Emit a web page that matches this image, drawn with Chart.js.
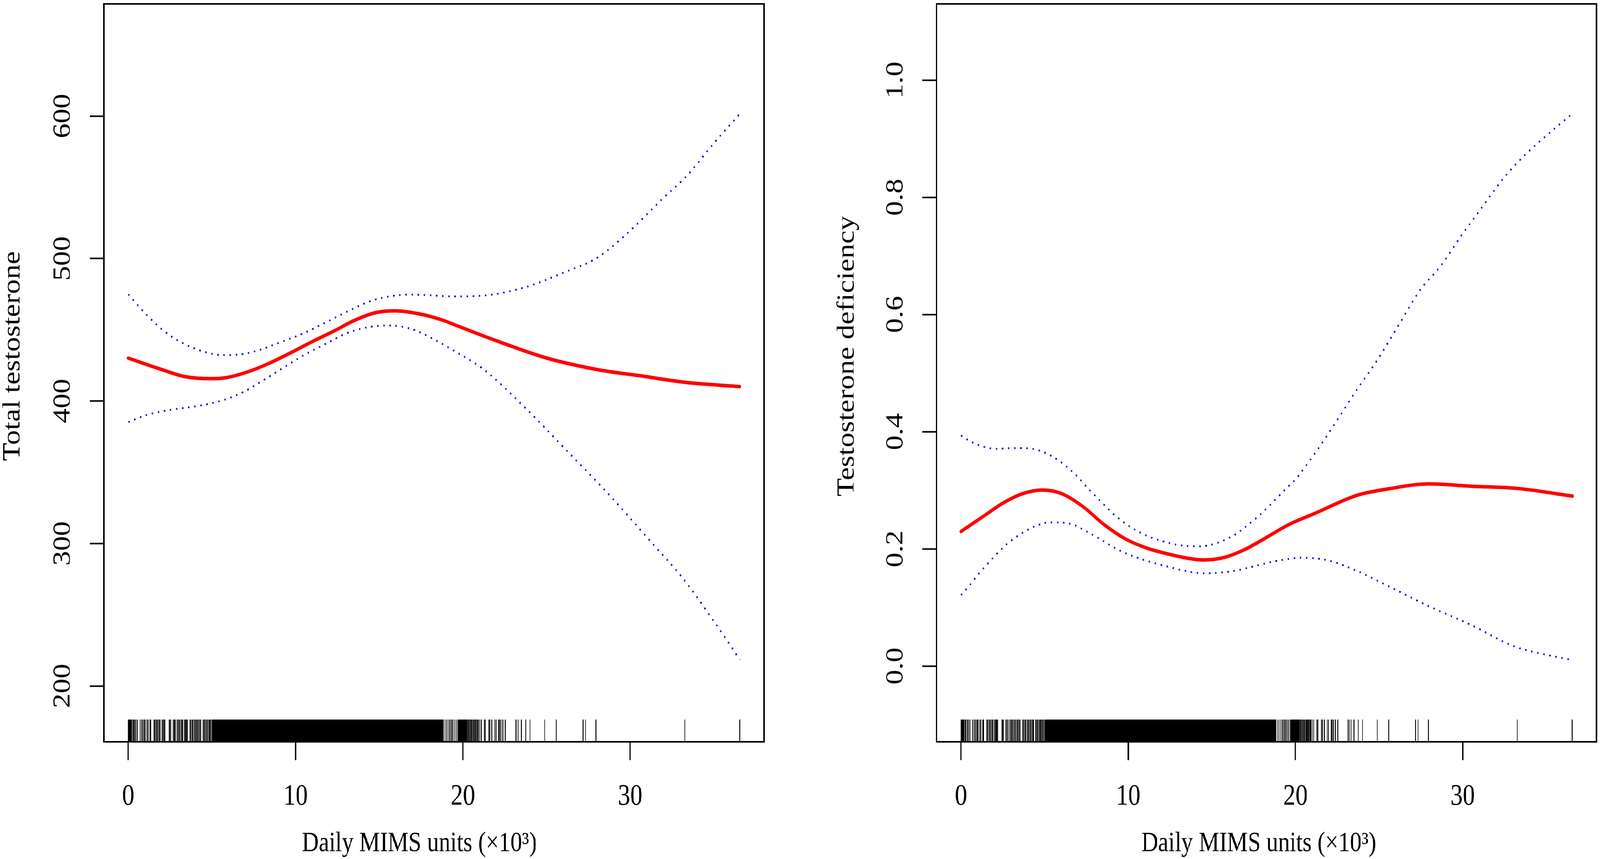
<!DOCTYPE html>
<html><head><meta charset="utf-8">
<script src="https://cdn.jsdelivr.net/npm/chart.js@4.4.1/dist/chart.umd.min.js"></script>
<style>
html,body{margin:0;padding:0;background:#fff;overflow:hidden}
#stage{position:absolute;left:0;top:0;width:4961px;height:2199px;transform-origin:0 0;background:#fff}
canvas{position:absolute;top:0}
#c1{left:0}
#c2{left:2480px}
</style></head><body>
<div id="stage">
<canvas id="c1" width="2480" height="2199"></canvas>
<canvas id="c2" width="2481" height="2199"></canvas>
</div>
<script>
// ---------- text ----------
const xAxisTitle = 'Daily MIMS units (×10³)';
const leftYTitle = 'Total testosterone';
const rightYTitle = 'Testosterone deficiency';

// ---------- tick values ----------
const xTickValues = [0, 10, 20, 30];
const ttTickValues = [200, 300, 400, 500, 600];
const tdTickValues = [0, 0.2, 0.4, 0.6, 0.8, 1.0];

// ---------- rug (observed Daily MIMS, x10^3) ----------
const rugX = [0, 0.03, 0.06, 0.09, 0.12, 0.15, 0.19, 0.26, 0.31, 0.39, 0.45, 0.53, 0.71, 0.82, 0.89, 0.96, 1.02, 1.11, 1.18, 1.30, 1.35,
  1.54, 1.58, 1.65, 1.72, 1.78, 1.85, 1.91, 2.01, 2.07, 2.13, 2.18, 2.44, 2.49, 2.55, 2.68, 2.74, 2.81, 2.93, 3.00, 3.05, 3.12, 3.19,
  3.25, 3.35, 3.41, 3.48, 3.54, 3.70, 3.76, 3.83, 3.88, 3.96, 4.02, 4.08, 4.15, 4.21, 4.28, 4.34, 4.47, 4.53, 4.59, 4.66, 4.72, 4.79,
  4.85, 4.91, 4.98, 5.04,
  18.83, 18.93, 19.02, 19.12, 19.21, 19.31, 19.40, 19.50, 19.60, 19.69,
  20.30, 20.35, 20.41, 20.47, 20.52, 20.58, 20.64, 20.70, 20.75, 20.81, 20.87, 20.93, 21.01, 21.10, 21.29, 21.35, 21.55, 21.61,
  21.73, 21.90, 21.98, 22.13, 22.18, 22.27, 22.39, 22.53, 23.15, 23.23, 23.33, 23.50, 23.76, 24.01, 24.89, 25.58, 27.18, 27.33,
  27.95, 33.27, 36.55];
// solid black part of the rug (marks too dense to separate in the picture)
const rugDenseX = [5.10, 5.25, 5.40, 5.55, 5.70, 5.85, 6.00, 6.15, 6.30, 6.45, 6.60, 6.75, 6.90, 7.05, 7.20, 7.35, 7.50, 7.65, 7.80,
  7.95, 8.10, 8.25, 8.40, 8.55, 8.70, 8.85, 9.00, 9.15, 9.30, 9.45, 9.60, 9.75, 9.90, 10.05, 10.20, 10.35, 10.50, 10.65, 10.80,
  10.95, 11.10, 11.25, 11.40, 11.55, 11.70, 11.85, 12.00, 12.15, 12.30, 12.45, 12.60, 12.75, 12.90, 13.05, 13.20, 13.35, 13.50,
  13.65, 13.80, 13.95, 14.10, 14.25, 14.40, 14.55, 14.70, 14.85, 15.00, 15.15, 15.30, 15.45, 15.60, 15.75, 15.90, 16.05, 16.20,
  16.35, 16.50, 16.65, 16.80, 16.95, 17.10, 17.25, 17.40, 17.55, 17.70, 17.85, 18.00, 18.15, 18.30, 18.45, 18.60, 18.72,
  19.80, 19.95, 20.10, 20.18];

// ---------- left panel: Total testosterone ----------
const ttFitX = [0, 2.04, 3.31, 4.85, 5.87, 7.15, 8.43, 9.70, 10.98, 12.26, 13.54, 14.82, 15.97, 17.37, 18.75, 19.42, 21.88, 25.02, 28.02, 30.65, 33.29, 36.55];
const ttFitY = [430.1, 421.9, 417.3, 415.7, 416.4, 420.5, 426.5, 433.8, 441.6, 448.9, 456.7, 462.1, 463.3, 461.2, 456.9, 453.9, 442.8, 430.1, 422.1, 417.6, 413.1, 410.1];
const ttUpperX = [0, 0.82, 1.65, 2.55, 3.57, 4.59, 5.61, 6.70, 7.78, 9.06, 10.47, 11.75, 13.09, 14.43, 15.45, 16.86, 18.0, 19.42, 21.25, 23.76, 26.02, 28.02, 29.78, 31.91, 33.41, 35.04, 36.55];
const ttUpperY = [474.9, 463.9, 454.1, 445.5, 438.8, 434.4, 432.2, 432.7, 435.6, 441.1, 447.5, 454.8, 462.8, 469.9, 473.1, 474.7, 474.2, 473.4, 474.0, 480.0, 490.1, 500.5, 517.2, 541.7, 558.4, 581.5, 601.5];
const ttLowerX = [0, 1.01, 2.42, 3.82, 4.85, 5.87, 6.96, 7.91, 9.19, 10.47, 11.81, 13.15, 14.50, 15.58, 16.99, 18.33, 19.29, 21.25, 23.76, 26.27, 28.78, 31.28, 33.16, 35.04, 36.55];
const ttLowerY = [385.2, 389.9, 393.6, 395.9, 398.1, 401.3, 406.8, 413.4, 422.8, 432.0, 440.2, 448.0, 452.1, 453.0, 450.3, 442.9, 436.5, 422.1, 394.8, 364.4, 333.7, 300.6, 275.4, 244.8, 218.5];

// ---------- right panel: Testosterone deficiency ----------
const tdFitX = [0, 1.28, 2.56, 3.71, 4.86, 6.01, 7.29, 8.57, 9.85, 11.13, 12.41, 13.69, 14.46, 15.61, 16.89, 18.17, 19.58, 21.20, 23.69, 25.56, 27.98, 30.53, 33.27, 36.57];
const tdFitY = [0.2296, 0.2544, 0.2789, 0.2944, 0.3004, 0.2944, 0.2722, 0.2411, 0.2167, 0.2011, 0.1911, 0.1833, 0.1811, 0.1844, 0.1978, 0.2178, 0.2411, 0.2611, 0.2915, 0.3024, 0.3108, 0.3069, 0.3031, 0.2901];
const tdUpperX = [0, 0.64, 1.34, 2.04, 3.07, 3.84, 4.54, 5.24, 5.88, 6.46, 7.04, 7.55, 8.12, 8.70, 9.27, 10.17, 11.13, 12.16, 13.24, 14.33, 15.35, 16.38, 17.27, 18.17, 19.0, 19.58, 19.96, 21.20, 22.45, 23.69, 24.94, 26.18, 27.42, 28.67, 29.91, 31.15, 32.40, 33.64, 34.88, 36.57];
const tdUpperY = [0.3933, 0.3822, 0.3744, 0.3707, 0.3718, 0.3718, 0.3689, 0.3611, 0.3500, 0.3367, 0.3211, 0.3044, 0.2878, 0.2711, 0.2556, 0.2367, 0.2222, 0.2122, 0.2056, 0.2044, 0.2104, 0.2244, 0.2433, 0.2660, 0.2900, 0.3067, 0.3173, 0.3645, 0.4175, 0.4724, 0.5241, 0.5823, 0.6404, 0.6824, 0.7341, 0.7826, 0.8311, 0.8698, 0.9021, 0.9430];
const tdLowerX = [0, 0.51, 1.02, 1.57, 2.11, 2.69, 3.30, 3.97, 4.61, 5.31, 6.01, 6.72, 7.42, 8.38, 9.34, 10.36, 11.39, 12.41, 13.43, 14.52, 15.22, 16.31, 17.34, 18.43, 19.45, 20.33, 21.95, 23.69, 25.56, 27.98, 30.53, 33.02, 34.88, 36.57];
const tdLowerY = [0.1211, 0.1378, 0.1562, 0.1738, 0.1907, 0.2067, 0.2204, 0.2322, 0.2407, 0.2451, 0.2449, 0.2411, 0.2311, 0.2156, 0.1993, 0.1867, 0.1771, 0.1693, 0.1622, 0.1582, 0.1589, 0.1622, 0.1689, 0.1767, 0.1822, 0.1848, 0.1803, 0.1622, 0.1363, 0.1021, 0.0698, 0.0343, 0.0200, 0.0103];

// ---------- fit the 4961x2199 stage into whatever viewport the browser gives ----------
(function () {
  const vw = document.documentElement.clientWidth || window.innerWidth || 4961;
  const vh = document.documentElement.clientHeight || window.innerHeight || 2199;
  const sx = vw / 4961, sy = vh / 2199;
  if (Math.abs(sx - 1) > 0.002 || Math.abs(sy - 1) > 0.002) {
    document.getElementById('stage').style.transform = 'scale(' + sx + ',' + sy + ')';
  }
})();

// ---------- helpers ----------
function pts(xs, ys) { return xs.map((x, i) => ({ x: x, y: ys[i] })); }
const FONT = 'Liberation Serif';
const RED = 'rgb(255,0,0)';
const BLUE = 'rgb(0,0,225)';

const boxPlugin = {
  id: 'rbox',
  afterDraw(chart) {
    const { ctx, chartArea: a } = chart;
    ctx.save();
    ctx.strokeStyle = '#000';
    ctx.lineWidth = 4;
    ctx.strokeRect(a.left, a.top, a.right - a.left, a.bottom - a.top);
    ctx.restore();
  }
};

// nudges the axis titles (as R placed them slightly off-centre)
const titleShiftPlugin = {
  id: 'titleShift',
  beforeDraw(chart, args, opts) {
    ['x', 'y'].forEach(id => {
      const s = chart.scales[id];
      if (!s || s._titleShiftPatched) return;
      const orig = s.drawTitle;
      const dx = id === 'x' ? (opts.x || 0) : 0;
      const dy = id === 'y' ? (opts.y || 0) : 0;
      s.drawTitle = function () {
        this.ctx.save();
        this.ctx.translate(dx, dy);
        orig.apply(this, arguments);
        this.ctx.restore();
      };
      s._titleShiftPatched = true;
    });
  }
};

function makePanel(canvasId, p) {
  const rugLine = (xs, w) => ({
    data: xs.map(x => ({ x: x, y: p.yMin })),
    showLine: false, pointStyle: 'line', pointRotation: 90, pointRadius: 57, pointHoverRadius: 57,
    pointBorderWidth: w, pointBorderColor: '#000', pointBackgroundColor: '#000', clip: 0
  });
  const dotted = (data) => ({
    data: data, showLine: true, borderColor: BLUE, borderWidth: 4.5, borderDash: [4.5, 14.5], borderCapStyle: 'butt',
    pointRadius: 0, cubicInterpolationMode: 'monotone', fill: false
  });
  return new Chart(document.getElementById(canvasId), {
    type: 'scatter',
    data: {
      datasets: [
        rugLine(rugX, 2.5),
        rugLine(rugDenseX, 9),
        dotted(p.lower),
        dotted(p.upper),
        { data: p.fit, showLine: true, borderColor: RED, borderWidth: 9, borderCapStyle: 'round', borderJoinStyle: 'round',
          pointRadius: 0, cubicInterpolationMode: 'monotone', fill: false }
      ]
    },
    options: {
      responsive: false, animation: false, devicePixelRatio: 1, events: [],
      layout: { autoPadding: false, padding: { left: 0, top: 10, right: p.rightPad, bottom: 0 } },
      plugins: { legend: { display: false }, tooltip: { enabled: false },
                 titleShift: { x: p.xTitleShift, y: p.yTitleShift } },
      scales: {
        x: {
          type: 'linear', position: 'bottom', min: -1.46, max: 38.0,
          afterBuildTicks: s => { s.ticks = xTickValues.map(v => ({ value: v })); },
          afterFit: s => { s.height = 300; s.paddingLeft = 0; s.paddingRight = 0; },
          grid: { display: true, drawOnChartArea: false, drawTicks: true, tickLength: 47, tickWidth: 4, tickColor: '#000' },
          border: { display: false },
          ticks: { autoSkip: false, minRotation: 0, maxRotation: 0, padding: 48, color: '#000',
                   font: { family: FONT, size: 76, lineHeight: 1.2 }, callback: v => String(v) },
          title: { display: true, text: xAxisTitle, color: '#000', font: { family: FONT, size: 72, lineHeight: 1 },
                   padding: { top: 0, bottom: 3 } }
        },
        y: {
          type: 'linear', position: 'left', min: p.yMin, max: p.yMax,
          afterBuildTicks: s => { s.ticks = p.yTicks.map(v => ({ value: v })); },
          afterFit: s => { s.width = p.yAxisWidth; s.paddingTop = 0; s.paddingBottom = 0; },
          grid: { display: true, drawOnChartArea: false, drawTicks: true, tickLength: p.yTickLen, tickWidth: 4, tickColor: '#000' },
          border: { display: false },
          ticks: { autoSkip: false, minRotation: 90, maxRotation: 90, crossAlign: 'center', padding: p.yTickPad, color: '#000',
                   font: { family: FONT, size: 76, lineHeight: 1.2 }, callback: p.yFmt },
          title: { display: true, text: p.yTitle, color: '#000', font: { family: FONT, size: 76, lineHeight: 1 },
                   padding: { top: p.yTitlePad, bottom: 0 } }
        }
      }
    },
    plugins: [boxPlugin, titleShiftPlugin]
  });
}

function draw() {
  makePanel('c1', {
    yTitle: leftYTitle, yMin: 160.8, yMax: 678.7, yTicks: ttTickValues, yFmt: v => String(v),
    fit: pts(ttFitX, ttFitY), upper: pts(ttUpperX, ttUpperY), lower: pts(ttLowerX, ttLowerY),
    yAxisWidth: 322, rightPad: 111, yTickLen: 44, yTickPad: 25, yTitlePad: 2, xTitleShift: -45, yTitleShift: -43
  });
  makePanel('c2', {
    yTitle: rightYTitle, yMin: -0.1293, yMax: 1.13, yTicks: tdTickValues, yFmt: v => Number(v).toFixed(1),
    fit: pts(tdFitX, tdFitY), upper: pts(tdUpperX, tdUpperY), lower: pts(tdLowerX, tdLowerY),
    yAxisWidth: 424, rightPad: 11, yTickLen: 45, yTickPad: 33, yTitlePad: 109, xTitleShift: -24, yTitleShift: -43
  });
}
if (document.fonts && document.fonts.load) {
  document.fonts.load('76px "' + FONT + '"').then(draw, draw);
} else { draw(); }
</script>
</body></html>
